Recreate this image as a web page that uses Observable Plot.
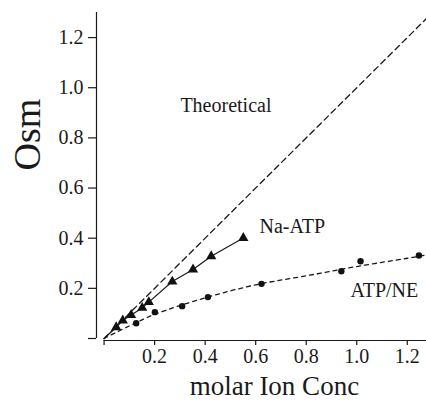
<!DOCTYPE html>
<html>
<head>
<meta charset="utf-8">
<script src="https://cdn.jsdelivr.net/npm/d3@7"></script>
<script src="https://cdn.jsdelivr.net/npm/@observablehq/plot@0.6"></script>
<style>
  html, body { margin: 0; padding: 0; background: #fff; }
  svg { display: block; }
  svg text { font-family: 'Liberation Serif', 'Times New Roman', serif !important; font-variant-numeric: normal !important; }
</style>
</head>
<body>
<div id="chart"></div>
<script>
// Na-ATP (triangles, solid line)
const naAtpX = [0.048, 0.074, 0.107, 0.151, 0.177, 0.270, 0.352, 0.424, 0.551];
const naAtpY = [0.045, 0.072, 0.094, 0.122, 0.145, 0.227, 0.275, 0.328, 0.401];
// ATP/NE (circles)
const atpNeX = [0.127, 0.201, 0.309, 0.411, 0.623, 0.939, 1.015, 1.246];
const atpNeY = [0.061, 0.105, 0.129, 0.165, 0.218, 0.268, 0.308, 0.331];
// ATP/NE fitted curve
const fitX = [0, 0.1, 0.2, 0.4, 0.6, 0.8, 1.0, 1.2, 1.276];
const fitY = [0, 0.05, 0.096, 0.162, 0.214, 0.25, 0.287, 0.32, 0.333];
// Theoretical line
const theoX = [0, 1.276];
const theoY = [0, 1.276];
// ticks
const xTicks = [0, 0.2, 0.4, 0.6, 0.8, 1.0, 1.2];
const yTicks = [0, 0.2, 0.4, 0.6, 0.8, 1.0, 1.2];
// annotations
const labelText = ["Theoretical", "Na-ATP", "ATP/NE"];
const labelX = [0.302, 0.615, 0.975];
const labelY = [0.927, 0.4465, 0.193];

const naAtp = naAtpX.map((x, i) => ({x, y: naAtpY[i]}));
const naAtpLine = [{x: 0, y: 0}, ...naAtp];
const atpNe = atpNeX.map((x, i) => ({x, y: atpNeY[i]}));
const fit = fitX.map((x, i) => ({x, y: fitY[i]}));
const theo = theoX.map((x, i) => ({x, y: theoY[i]}));
const labels = labelText.map((t, i) => ({t, x: labelX[i], y: labelY[i]}));

const font = "'Liberation Serif', 'Times New Roman', serif";

const chart = Plot.plot({
  width: 426,
  height: 402,
  marginLeft: 96,
  marginRight: 0,
  marginTop: 12,
  marginBottom: 62,
  style: {fontFamily: font, fontSize: "20px", color: "#1a1a1a", background: "#fff"},
  x: {domain: [-0.03, 1.276]},
  y: {domain: [-0.008, 1.30]},
  marks: [
    // axes lines
    Plot.ruleX([-0.03], {y1: 0, y2: 1.30, stroke: "#1a1a1a", strokeWidth: 1.2}),
    Plot.ruleY([-0.008], {x1: 0, x2: 1.276, stroke: "#1a1a1a", strokeWidth: 1.2}),
    Plot.axisY({ticks: yTicks, anchor: "left", tickSize: 8, tickPadding: 5,
      tickFormat: d => d === 0 ? "" : d.toFixed(1), label: null, fontSize: 20, fontFamily: font, strokeWidth: 1.2}),
    Plot.axisX({ticks: xTicks, anchor: "bottom", tickSize: 5, tickPadding: 3,
      tickFormat: d => d === 0 ? "" : d.toFixed(1), label: null, fontSize: 20, fontFamily: font, strokeWidth: 1.2}),
    // theoretical
    Plot.line(theo, {x: "x", y: "y", stroke: "#1a1a1a", strokeWidth: 1.3, strokeDasharray: "6,4"}),
    // ATP/NE fit curve
    Plot.line(fit, {x: "x", y: "y", curve: "catmull-rom", stroke: "#1a1a1a", strokeWidth: 1.3, strokeDasharray: "4,4"}),
    Plot.dot(atpNe, {x: "x", y: "y", r: 3.2, fill: "#111", stroke: "none"}),
    // Na-ATP
    Plot.line(naAtpLine, {x: "x", y: "y", stroke: "#1a1a1a", strokeWidth: 1.2}),
    Plot.dot(naAtp, {x: "x", y: "y", symbol: "triangle", r: 3.8, fill: "#111", stroke: "none"}),
    // labels
    Plot.text(labels, {x: "x", y: "y", text: "t", textAnchor: "start", lineAnchor: "middle", fontSize: 20, fontFamily: font, fill: "#1a1a1a"}),
    Plot.text(["Osm"], {frameAnchor: "left", y: 0.670, text: d => d, rotate: -90, dx: -69, lineAnchor: "middle", fontSize: 38, fontFamily: font, fill: "#1a1a1a"}),
    Plot.text(["molar Ion Conc"], {frameAnchor: "bottom", x: 0.674, text: d => d, dy: 46, lineAnchor: "middle", fontSize: 27, fontFamily: font, fill: "#1a1a1a"})
  ]
});
document.getElementById("chart").appendChild(chart);
</script>
</body>
</html>
